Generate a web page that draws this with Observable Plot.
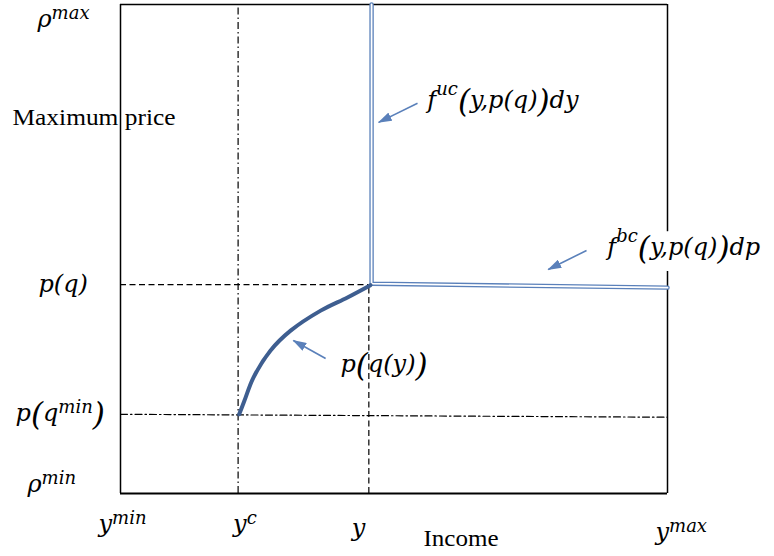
<!DOCTYPE html>
<html><head><meta charset="utf-8">
<script src="https://cdn.jsdelivr.net/npm/d3@7"></script>
<script src="https://cdn.jsdelivr.net/npm/@observablehq/plot@0.6"></script>
<style>body{margin:0;background:#fff}</style>
</head><body><div id="chart"></div>
<script>
// ---- data (abstract units: income 0 = y^min .. 100 = y^max, price 0 = rho^min .. 100 = rho^max)
// markup: ^{..} superscript, [ ] large parentheses
const incomeTicks = [0, 21.5, 45.4, 100];
const incomeTickLabels = ["y^{min}", "y^{c}", "y", "y^{max}"];
const priceTicks = [100, 42.7, 16.2, 0];
const priceTickLabels = ["ρ^{max}", "p(q)", "p[q^{min}]", "ρ^{min}"];

const yC = 21.5, yY = 45.4, pQ = 42.7, pQmin = 16.2;

// p(q(y)) curve
const curveIncome = [21.7, 22.6, 24.3, 27.4, 31.1, 36.6, 41.5, 45.7];
const curvePrice  = [16.2, 18.8, 23.7, 29.2, 33.3, 37.4, 40.1, 42.6];

// density lines f^uc (vertical) and f^bc (horizontal)
const densIncome = [45.9, 45.9, 100];
const densPrice  = [100, 42.9, 42.1];

// p(q^min) dash-dot line (as read)
const minLineIncome = [0, 100];
const minLinePrice  = [16.2, 15.6];

// annotations
const annLabels = ["f^{uc}[y,p(q)]dy", "f^{bc}[y,p(q)]dp", "p[q(y)]"];
const annIncome = [56.1, 89.0, 40.2];
const annPrice  = [78.9, 48.7, 24.9];
const arrowFromIncome = [54.3, 85.2, 37.5];
const arrowFromPrice  = [79.8, 49.7, 27.6];
const arrowToIncome   = [47.2, 78.2, 31.6];
const arrowToPrice    = [75.9, 45.8, 31.3];

// ---- build tables
const curve = curveIncome.map((x, i) => ({x, y: curvePrice[i]}));
const dens = densIncome.map((x, i) => ({x, y: densPrice[i]}));
const minLine = minLineIncome.map((x, i) => ({x, y: minLinePrice[i]}));
const arrows = arrowFromIncome.map((x1, i) => ({x1, y1: arrowFromPrice[i], x2: arrowToIncome[i], y2: arrowToPrice[i]}));
const anns = annLabels.map((t, i) => ({t, x: annIncome[i], y: annPrice[i]}));

const blue = "#5a80ba", dark = "#3e5e90";
const mathFont = {fontFamily: "DejaVu Serif", fontStyle: "italic", fontSize: 24, textAnchor: "start", lineAnchor: "bottom", fill: "black"};

const yDx = [-83, -82, -105, -93];
const yDy = [22, 7, 7, -2];
const xDx = [-22, -5, -17, -12];
const xDy = [38, 38, 42, 46];

const plot = Plot.plot({
  width: 774, height: 556,
  marginLeft: 120, marginRight: 107, marginTop: 4, marginBottom: 63,
  x: {domain: [0, 100], axis: null},
  y: {domain: [0, 100], axis: null},
  style: {background: "white", overflow: "visible"},
  marks: [
    // frame
    Plot.ruleX([0], {y1: 0, y2: 100, stroke: "black", strokeWidth: 1.5}),
    Plot.ruleY([100], {x1: 0, x2: 100, stroke: "black", strokeWidth: 1.3}),
    Plot.ruleX([100], {y1: 0, y2: 100, stroke: "black", strokeWidth: 1.5}),
    Plot.ruleY([0], {x1: 0, x2: 100, stroke: "black", strokeWidth: 2}),
    // guides
    Plot.ruleY([pQ], {x1: 0, x2: yY, stroke: "black", strokeWidth: 1.2, strokeDasharray: "6,3.5"}),
    Plot.ruleX([yY], {y1: 0, y2: pQ, stroke: "black", strokeWidth: 1.2, strokeDasharray: "6,3.5"}),
    Plot.ruleX([yC], {y1: 0, y2: 100, stroke: "black", strokeWidth: 1.2, strokeDasharray: "7,3,1.5,3"}),
    Plot.line(minLine, {x: "x", y: "y", stroke: "black", strokeWidth: 1.2, strokeDasharray: "7,3,1.5,3"}),
    // density double line
    Plot.line(dens, {x: "x", y: "y", stroke: blue, strokeWidth: 4.4, strokeLinejoin: "miter"}),
    Plot.line(dens, {x: "x", y: "y", stroke: "white", strokeWidth: 1.8, strokeLinejoin: "miter"}),
    // curve
    Plot.line(curve, {x: "x", y: "y", stroke: dark, strokeWidth: 4, curve: "catmull-rom", strokeLinecap: "round"}),
    // arrows
    Plot.link(arrows, {x1: "x1", y1: "y1", x2: "x2", y2: "y2", stroke: blue, strokeWidth: 1.6}),
    // annotations (white halo behind the f^bc label, which sits on the right border)
    Plot.text([anns[1]], {x: "x", y: "y", text: "t", ...mathFont, fill: "white", stroke: "white", strokeWidth: 22, strokeLinejoin: "round"}),
    Plot.text(anns, {x: "x", y: "y", text: "t", ...mathFont}),
    // tick labels
    ...priceTicks.map((v, i) => Plot.text([priceTickLabels[i]], {x: 0, y: v, text: d => d, ...mathFont, dx: yDx[i], dy: yDy[i]})),
    ...incomeTicks.map((v, i) => Plot.text([incomeTickLabels[i]], {x: v, y: 0, text: d => d, ...mathFont, dx: xDx[i], dy: xDy[i]})),
    // axis titles
    Plot.text(["Maximum price"], {frameAnchor: "top-left", text: d => d, fontFamily: "Liberation Serif", fontSize: 24, textAnchor: "start", lineAnchor: "bottom", dx: -108, dy: 120, fill: "black"}),
    Plot.text(["Income"], {frameAnchor: "bottom-left", text: d => d, fontFamily: "Liberation Serif", fontSize: 23, textAnchor: "start", lineAnchor: "bottom", dx: 303, dy: 52, fill: "black"})
  ]
});

// ---- post-processing: superscripts, large parens, arrow heads, text widths
const svg = d3.select(plot);
svg.selectAll("text").each(function() {
  const el = this;
  const s = el.textContent;
  if (s === "Maximum price") { el.setAttribute("textLength", 163); el.setAttribute("lengthAdjust", "spacingAndGlyphs"); return; }
  if (s === "Income") { el.setAttribute("textLength", 75); el.setAttribute("lengthAdjust", "spacingAndGlyphs"); return; }
  if (!/[\^\[\]]/.test(s)) return;
  const shift = s.startsWith("f") ? 13 : 8;
  const segs = [];
  let i = 0, buf = "";
  const flush = () => { if (buf) { segs.push({text: buf, size: null, off: 0}); buf = ""; } };
  while (i < s.length) {
    const c = s[i];
    if (c === "^" && s[i + 1] === "{") {
      flush();
      const j = s.indexOf("}", i);
      segs.push({text: s.slice(i + 2, j), size: 18, off: -shift});
      i = j + 1;
    } else if (c === "[" || c === "]") {
      flush();
      segs.push({text: c === "[" ? "(" : ")", size: 31, off: 4});
      i++;
    } else { buf += c; i++; }
  }
  flush();
  while (el.firstChild) el.removeChild(el.firstChild);
  let prev = 0;
  for (const sg of segs) {
    const t = document.createElementNS("http://www.w3.org/2000/svg", "tspan");
    t.textContent = sg.text;
    if (sg.size) t.setAttribute("font-size", sg.size);
    if (sg.off !== prev) t.setAttribute("dy", sg.off - prev);
    prev = sg.off;
    el.appendChild(t);
  }
});

const defs = svg.insert("defs", ":first-child");
defs.append("marker").attr("id", "ah").attr("viewBox", "0 0 14 9").attr("refX", 13).attr("refY", 4.5)
  .attr("markerWidth", 14).attr("markerHeight", 9).attr("markerUnits", "userSpaceOnUse").attr("orient", "auto")
  .append("path").attr("d", "M0,0L14,4.5L0,9Z").attr("fill", blue);
svg.selectAll('g[aria-label="link"] path').attr("marker-end", "url(#ah)");

document.getElementById("chart").appendChild(plot);
</script>
</body></html>
